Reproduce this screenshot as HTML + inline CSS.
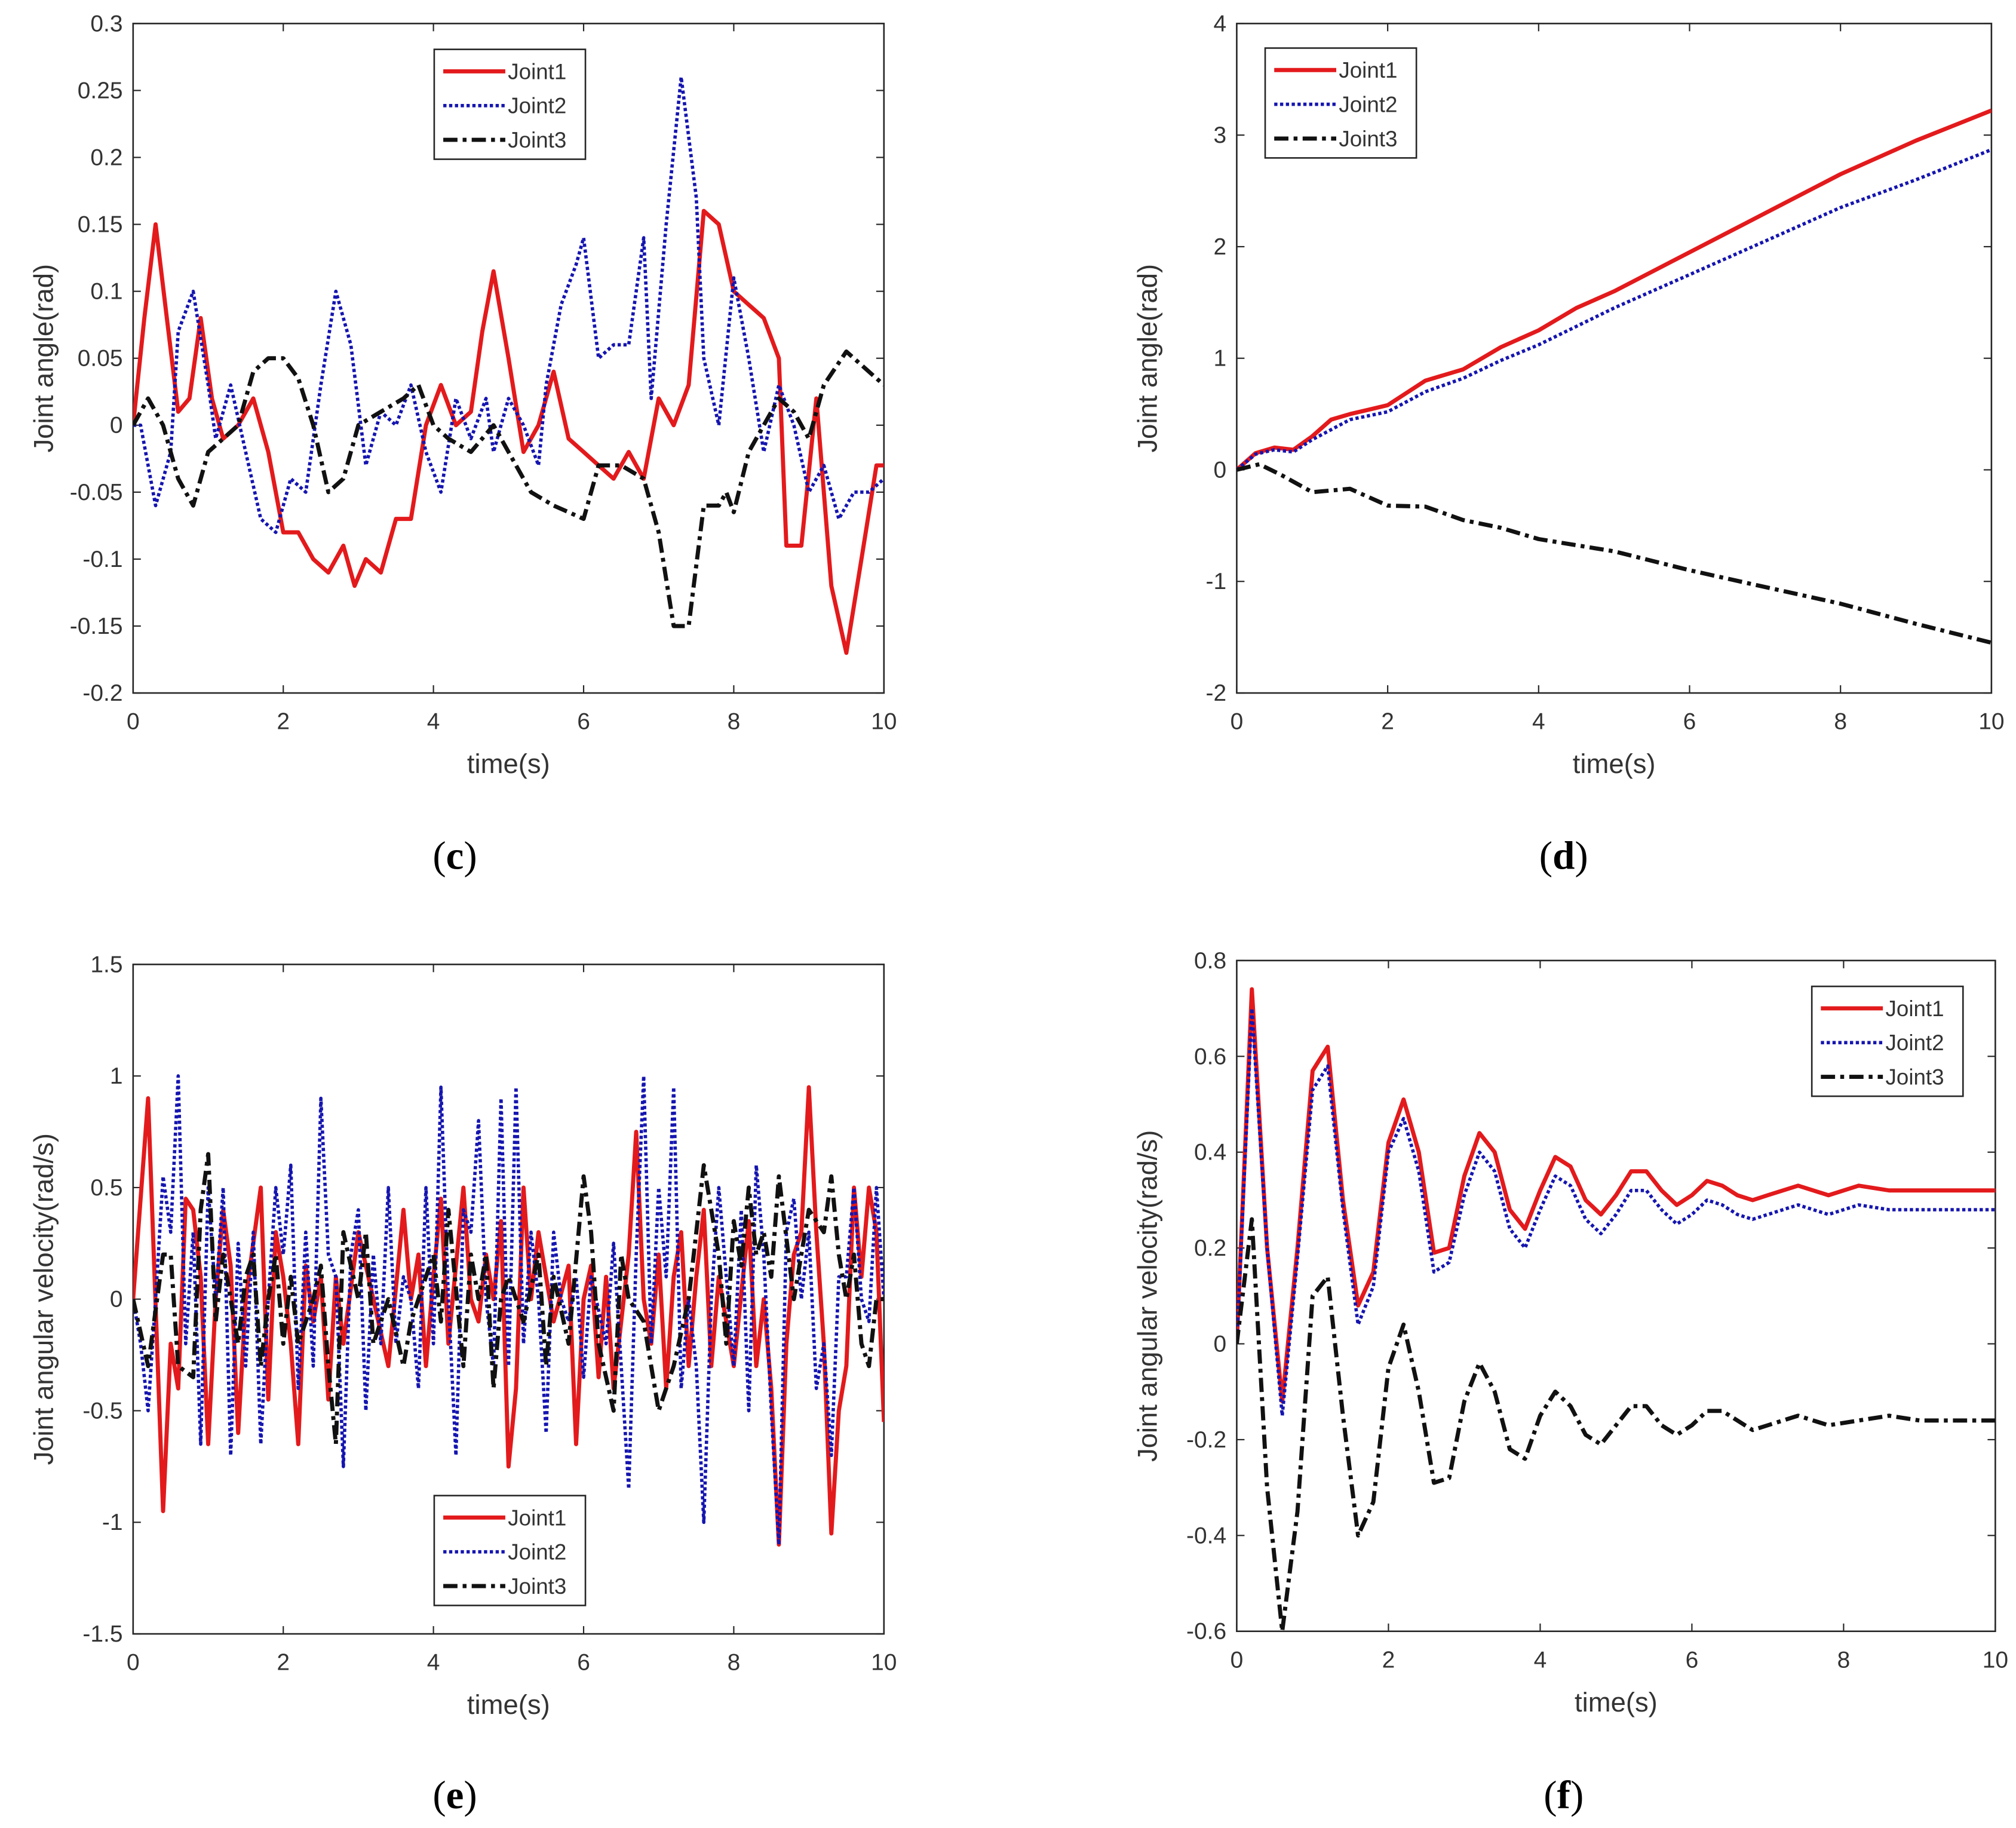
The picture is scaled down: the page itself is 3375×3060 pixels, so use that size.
<!DOCTYPE html>
<html><head><meta charset="utf-8"><style>
html,body{margin:0;padding:0;background:#fff;}
svg{display:block;}
text{font-family:"Liberation Sans",sans-serif;}
</style></head><body>
<svg id="fig" width="3375" height="3060" viewBox="0 0 1560 1414" xmlns="http://www.w3.org/2000/svg"></svg>
<script>
// ---- panel (c) data ----
const cT1=[0,0.15,0.3,0.45,0.6,0.75,0.9,1.05,1.2,1.4,1.6,1.8,2.0,2.2,2.4,2.6,2.8,2.95,3.1,3.3,3.5,3.7,3.9,4.1,4.3,4.5,4.65,4.8,5.0,5.2,5.4,5.6,5.8,6.0,6.2,6.4,6.6,6.8,7.0,7.2,7.4,7.6,7.8,8.0,8.2,8.4,8.6,8.7,8.9,9.1,9.3,9.5,9.7,9.9,10];
const cJ1=[0,0.08,0.15,0.08,0.01,0.02,0.08,0.02,-0.01,0,0.02,-0.02,-0.08,-0.08,-0.1,-0.11,-0.09,-0.12,-0.1,-0.11,-0.07,-0.07,0,0.03,0,0.01,0.07,0.115,0.05,-0.02,0,0.04,-0.01,-0.02,-0.03,-0.04,-0.02,-0.04,0.02,0,0.03,0.16,0.15,0.1,0.09,0.08,0.05,-0.09,-0.09,0.02,-0.12,-0.17,-0.1,-0.03,-0.03];
const cT2=[0,0.1,0.3,0.5,0.6,0.8,1.0,1.1,1.3,1.5,1.7,1.9,2.1,2.3,2.5,2.7,2.9,3.1,3.3,3.5,3.7,3.9,4.1,4.3,4.5,4.7,4.8,5.0,5.2,5.4,5.5,5.7,5.9,6.0,6.2,6.4,6.6,6.8,6.9,7.1,7.3,7.5,7.6,7.8,8.0,8.2,8.4,8.6,8.8,9.0,9.2,9.4,9.6,9.8,10];
const cJ2=[0,0,-0.06,-0.02,0.07,0.1,0.03,-0.01,0.03,-0.02,-0.07,-0.08,-0.04,-0.05,0.03,0.1,0.06,-0.03,0.01,0,0.03,-0.02,-0.05,0.02,-0.01,0.02,-0.02,0.02,0,-0.03,0.03,0.09,0.12,0.14,0.05,0.06,0.06,0.14,0.02,0.15,0.26,0.17,0.05,0,0.11,0.05,-0.02,0.03,0,-0.05,-0.03,-0.07,-0.05,-0.05,-0.04];
const cT3=[0,0.2,0.4,0.6,0.8,1.0,1.2,1.4,1.6,1.8,2.0,2.2,2.4,2.6,2.8,3.0,3.3,3.6,3.8,4.0,4.2,4.5,4.8,5.0,5.3,5.6,5.8,6.0,6.2,6.5,6.8,7.0,7.2,7.4,7.6,7.8,7.9,8.0,8.2,8.4,8.6,8.8,9.0,9.2,9.5,9.8,10];
const cJ3=[0,0.02,0,-0.04,-0.06,-0.02,-0.01,0,0.04,0.05,0.05,0.035,0,-0.05,-0.04,0,0.01,0.02,0.03,0,-0.01,-0.02,0,-0.02,-0.05,-0.06,-0.065,-0.07,-0.03,-0.03,-0.04,-0.08,-0.15,-0.15,-0.06,-0.06,-0.05,-0.065,-0.02,0,0.02,0.01,-0.01,0.03,0.055,0.04,0.03];
const cYTicks=["-0.2","-0.15","-0.1","-0.05","0","0.05","0.1","0.15","0.2","0.25","0.3"];
// ---- panel (d) data ----
const dT1=[0,0.25,0.5,0.75,1,1.25,1.5,2,2.5,3,3.5,4,4.5,5,6,7,8,9,10];
const dJ1=[0,0.15,0.2,0.18,0.3,0.45,0.5,0.58,0.8,0.9,1.1,1.25,1.45,1.6,1.95,2.3,2.65,2.95,3.22];
const dT2=[0,0.25,0.5,0.75,1,1.5,2,2.5,3,3.5,4,5,6,7,8,9,10];
const dJ2=[0,0.14,0.18,0.16,0.27,0.45,0.52,0.7,0.82,0.98,1.12,1.45,1.75,2.05,2.35,2.6,2.87];
const dT3=[0,0.3,0.6,1,1.5,2,2.5,3,3.5,4,5,6,7,8,9,10];
const dJ3=[0,0.05,-0.05,-0.2,-0.17,-0.32,-0.33,-0.45,-0.52,-0.62,-0.73,-0.9,-1.05,-1.2,-1.38,-1.55];
const dYTicks=["-2","-1","0","1","2","3","4"];
// ---- panel (e) data ----
const eT1=[0,0.2,0.4,0.5,0.6,0.7,0.8,0.9,1.0,1.1,1.2,1.3,1.4,1.5,1.7,1.8,1.9,2.0,2.1,2.2,2.3,2.4,2.5,2.6,2.7,2.8,3.0,3.2,3.4,3.6,3.7,3.8,3.9,4.0,4.1,4.2,4.4,4.5,4.6,4.7,4.8,4.9,5.0,5.1,5.2,5.3,5.4,5.6,5.8,5.9,6.0,6.1,6.2,6.3,6.4,6.5,6.6,6.7,6.8,6.9,7.0,7.1,7.2,7.3,7.4,7.5,7.6,7.7,7.8,8.0,8.2,8.3,8.4,8.5,8.6,8.7,8.8,8.9,9.0,9.1,9.2,9.3,9.4,9.5,9.6,9.7,9.8,9.9,10];
const eJ1=[0,0.9,-0.95,-0.2,-0.4,0.45,0.4,0.1,-0.65,0,0.4,0.15,-0.6,0,0.5,-0.45,0.3,0.1,-0.2,-0.65,0.15,-0.1,0.1,-0.45,0.1,-0.2,0.3,0,-0.3,0.4,0,0.2,-0.3,0.1,0.45,-0.2,0.5,0,-0.1,0.2,0,0.35,-0.75,-0.4,0.5,0,0.3,-0.1,0.15,-0.65,0,0.15,-0.35,0.1,-0.4,-0.1,0.2,0.75,0,-0.2,0.2,-0.4,0.1,0.3,-0.3,0.1,0.4,-0.3,0.1,-0.3,0.35,-0.3,0,-0.4,-1.1,-0.2,0.2,0.3,0.95,0.3,-0.2,-1.05,-0.5,-0.3,0.5,0.1,0.5,0.3,-0.55];
const eT2=[0,0.1,0.2,0.3,0.4,0.5,0.6,0.7,0.8,0.9,1.0,1.1,1.2,1.3,1.4,1.5,1.6,1.7,1.8,1.9,2.0,2.1,2.2,2.3,2.4,2.5,2.6,2.7,2.8,2.9,3.0,3.1,3.2,3.3,3.4,3.5,3.6,3.7,3.8,3.9,4.0,4.1,4.2,4.3,4.4,4.5,4.6,4.7,4.8,4.9,5.0,5.1,5.2,5.3,5.4,5.5,5.6,5.7,5.8,5.9,6.0,6.1,6.3,6.4,6.5,6.6,6.7,6.8,6.9,7.0,7.1,7.2,7.3,7.4,7.5,7.6,7.7,7.8,7.9,8.0,8.1,8.2,8.3,8.4,8.5,8.6,8.7,8.8,8.9,9.0,9.1,9.2,9.3,9.4,9.5,9.6,9.7,9.8,9.9,10];
const eJ2=[0,-0.2,-0.5,0,0.55,0.3,1.0,-0.2,0.3,-0.65,0.5,0,0.5,-0.7,0.25,-0.3,0.3,-0.65,0,0.5,0.2,0.6,-0.4,0.3,-0.3,0.9,0.2,0.1,-0.75,0.2,0.4,-0.5,0.2,-0.2,0.5,-0.2,0.1,0,-0.4,0.5,-0.2,0.95,0,-0.7,0.4,0.3,0.8,0,-0.3,0.9,-0.3,0.95,-0.2,0.3,0,-0.6,0.3,0,-0.1,0.1,-0.35,0.1,-0.2,0.25,-0.3,-0.85,0.2,1.0,-0.2,0.5,0.1,0.95,-0.4,0,-0.3,-1.0,0,0.5,0.1,-0.3,0.4,-0.5,0.6,0.2,-0.5,-1.1,0.3,0.45,0,0.3,-0.4,-0.2,-0.7,0.1,0.1,0.5,0,-0.1,0.5,0];
const eT3=[0,0.2,0.4,0.5,0.6,0.8,0.9,1.0,1.1,1.2,1.3,1.4,1.5,1.6,1.7,1.8,1.9,2.0,2.1,2.2,2.4,2.5,2.6,2.7,2.8,3.0,3.1,3.2,3.4,3.6,3.7,3.8,4.0,4.1,4.2,4.4,4.5,4.6,4.7,4.8,4.9,5.0,5.2,5.4,5.5,5.6,5.8,6.0,6.1,6.2,6.4,6.5,6.6,6.8,7.0,7.2,7.4,7.5,7.6,7.7,7.8,7.9,8.0,8.1,8.2,8.3,8.4,8.5,8.6,8.8,9.0,9.2,9.3,9.4,9.5,9.6,9.7,9.8,9.9,10];
const eJ3=[0,-0.3,0.2,0.2,-0.3,-0.35,0.4,0.65,-0.1,0.2,0,-0.2,0.1,0.2,-0.3,0,0.2,-0.2,0.1,-0.2,0,0.15,-0.3,-0.65,0.3,0,0.3,-0.2,0,-0.3,-0.1,0,0.2,-0.1,0.4,-0.3,0.2,0,0.2,-0.4,0,0.1,-0.1,0.2,-0.3,0.1,-0.2,0.55,0.3,-0.2,-0.5,0.2,0,-0.1,-0.5,-0.3,0,0.3,0.6,0.4,0.2,-0.2,0.35,0.15,0.5,0.2,0.3,0.1,0.55,0,0.4,0.3,0.55,0.2,0,0.2,-0.2,-0.3,0,0];
const eYTicks=["-1.5","-1","-0.5","0","0.5","1","1.5"];
// ---- panel (f) data ----
const fT1=[0,0.2,0.4,0.6,0.8,1.0,1.2,1.4,1.6,1.8,2.0,2.2,2.4,2.6,2.8,3.0,3.2,3.4,3.6,3.8,4.0,4.2,4.4,4.6,4.8,5.0,5.2,5.4,5.6,5.8,6.0,6.2,6.4,6.6,6.8,7.0,7.4,7.8,8.2,8.6,9.0,9.4,10];
const fJ1=[0,0.74,0.2,-0.12,0.2,0.57,0.62,0.3,0.08,0.15,0.42,0.51,0.4,0.19,0.2,0.35,0.44,0.4,0.28,0.24,0.32,0.39,0.37,0.3,0.27,0.31,0.36,0.36,0.32,0.29,0.31,0.34,0.33,0.31,0.3,0.31,0.33,0.31,0.33,0.32,0.32,0.32,0.32];
const fJ2=[0,0.7,0.2,-0.15,0.18,0.53,0.58,0.28,0.04,0.12,0.4,0.47,0.36,0.15,0.17,0.31,0.4,0.36,0.24,0.2,0.28,0.35,0.33,0.26,0.23,0.27,0.32,0.32,0.28,0.25,0.27,0.3,0.29,0.27,0.26,0.27,0.29,0.27,0.29,0.28,0.28,0.28,0.28];
const fJ3=[0,0.26,-0.3,-0.6,-0.35,0.1,0.14,-0.15,-0.4,-0.33,-0.05,0.04,-0.1,-0.29,-0.28,-0.12,-0.04,-0.1,-0.22,-0.24,-0.15,-0.1,-0.13,-0.19,-0.21,-0.17,-0.13,-0.13,-0.17,-0.19,-0.17,-0.14,-0.14,-0.16,-0.18,-0.17,-0.15,-0.17,-0.16,-0.15,-0.16,-0.16,-0.16];
const fYTicks=["-0.6","-0.4","-0.2","0","0.2","0.4","0.6","0.8"];
const xTicks=["0","2","4","6","8","10"];
const seriesNames=["Joint1","Joint2","Joint3"];

const NS="http://www.w3.org/2000/svg";
const svg=document.getElementById('fig');
function mk(tag,attrs,parent,text){const e=document.createElementNS(NS,tag);for(const k in attrs)e.setAttribute(k,attrs[k]);if(text!==undefined)e.textContent=text;(parent||svg).appendChild(e);return e;}
const styles=[{stroke:'#e31a1c',w:3.2,dash:''},{stroke:'#1515b0',w:2.6,dash:'2.5 2'},{stroke:'#111',w:3.2,dash:'11 4 3 4'}];

function panel(id,L,R,T,B,ymin,ymax,yTicks,ylabel,series,legendX,legendY,letter,letterX,letterY){
  const g=mk('g',{});
  
  
  const sx=v=>L+(v-0)/10*(R-L);
  const sy=v=>B-(v-ymin)/(ymax-ymin)*(B-T);
  const clipId='clip'+id;
  const cp=mk('clipPath',{id:clipId},g);mk('rect',{x:L,y:T,width:R-L,height:B-T},cp);
  const box=mk('rect',{x:L,y:T,width:R-L,height:B-T,fill:'#fff',stroke:'#262626','stroke-width':1.2},g);
  
  
  xTicks.forEach(t=>{const x=sx(+t);
    mk('line',{x1:x,x2:x,y1:B,y2:B-6,stroke:'#262626','stroke-width':1},g);
    mk('line',{x1:x,x2:x,y1:T,y2:T+6,stroke:'#262626','stroke-width':1},g);
    const tx=mk('text',{x:x,y:B+28,'text-anchor':'middle','font-size':18,fill:'#333'},g,t);
    
    });
  yTicks.forEach(t=>{const y=sy(+t);
    mk('line',{x1:L,x2:L+6,y1:y,y2:y,stroke:'#262626','stroke-width':1},g);
    mk('line',{x1:R,x2:R-6,y1:y,y2:y,stroke:'#262626','stroke-width':1},g);
    const tx=mk('text',{x:L-8,y:y+6,'text-anchor':'end','font-size':18,fill:'#333'},g,t);
    
    });
  const xl=mk('text',{x:(L+R)/2,y:B+62,'text-anchor':'middle','font-size':21,fill:'#333'},g,'time(s)');
  
  
  const cy=(T+B)/2, lx=L-62;
  const yl=mk('text',{x:lx,y:cy,'text-anchor':'middle','font-size':21,fill:'#333',transform:`rotate(-90 ${lx} ${cy})`},g,ylabel);
  
  
  const lg=mk('g',{'clip-path':`url(#${clipId})`},g);
  series.forEach((s,i)=>{const st=styles[i];
    const d=s[0].map((t,k)=>(k?'L':'M')+sx(t).toFixed(1)+','+sy(s[1][k]).toFixed(1)).join(' ');
    const p=mk('path',{d:d,fill:'none',stroke:st.stroke,'stroke-width':st.w,'stroke-dasharray':st.dash,'stroke-linejoin':'round'},lg);
    
    });
  const leg=mk('g',{},g);
  
  
  mk('rect',{x:legendX,y:legendY,width:117,height:85,fill:'#fff',stroke:'#262626','stroke-width':1.2},leg);
  seriesNames.forEach((n,i)=>{const st=styles[i];const y=legendY+17+i*26.5;
    mk('line',{x1:legendX+7,x2:legendX+55,y1:y,y2:y,stroke:st.stroke,'stroke-width':st.w,'stroke-dasharray':st.dash},leg);
    const tx=mk('text',{x:legendX+57,y:y+6,'font-size':17,fill:'#333'},leg,n);
    
    });
  const lt=mk('text',{x:letterX,y:letterY,'text-anchor':'middle','font-size':31,fill:'#000',style:'font-family:"Liberation Serif",serif'},g);
  
  
  mk('tspan',{},lt,'(');mk('tspan',{'font-weight':'bold'},lt,letter);mk('tspan',{},lt,')');
}
panel('c',103,684,18,536,-0.2,0.3,cYTicks,'Joint angle(rad)',[[cT1,cJ1],[cT2,cJ2],[cT3,cJ3]],336,38,'c',352,672);
panel('d',957,1541,18,536,-2,4,dYTicks,'Joint angle(rad)',[[dT1,dJ1],[dT2,dJ2],[dT3,dJ3]],979,37,'d',1210,672);
panel('e',103,684,746,1264,-1.5,1.5,eYTicks,'Joint angular velocity(rad/s)',[[eT1,eJ1],[eT2,eJ2],[eT3,eJ3]],336,1157,'e',352,1399);
panel('f',957,1544,743,1262,-0.6,0.8,fYTicks,'Joint angular velocity(rad/s)',[[fT1,fJ1],[fT1,fJ2],[fT1,fJ3]],1402,763,'f',1210,1399);
</script>
</body></html>
